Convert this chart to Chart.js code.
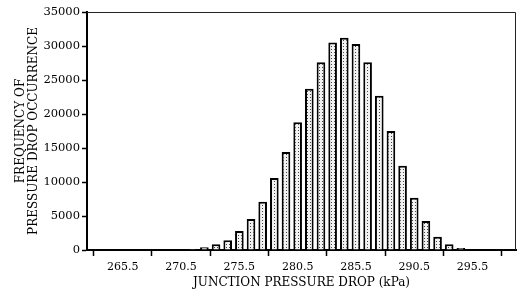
<!DOCTYPE html>
<html>
<head>
<meta charset="utf-8">
<script src="https://cdn.jsdelivr.net/npm/chart.js@4/dist/chart.umd.min.js"></script>
<style>
html,body{margin:0;padding:0;background:#fff;}
#wrap{width:521px;height:290px;}
</style>
</head>
<body>
<div id="wrap"><canvas id="c" width="521" height="290"></canvas></div>
<script>
const binCenters = [269.5, 270.5, 271.5, 272.5, 273.5, 274.5, 275.5, 276.5, 277.5, 278.5, 279.5, 280.5, 281.5, 282.5, 283.5, 284.5, 285.5, 286.5, 287.5, 288.5, 289.5, 290.5, 291.5, 292.5, 293.5, 294.5];
const frequencies = [40, 80, 150, 400, 850, 1450, 2800, 4550, 7100, 10600, 14400, 18800, 23700, 27600, 30500, 31200, 30300, 27600, 22700, 17500, 12400, 7700, 4250, 1950, 850, 300];
const xTickLabels = [265.5, 270.5, 275.5, 280.5, 285.5, 290.5, 295.5];
const yTickLabels = [0, 5000, 10000, 15000, 20000, 25000, 30000, 35000];
const xTitle = 'JUNCTION PRESSURE DROP (kPa)';
const yTitle = ['FREQUENCY OF', 'PRESSURE DROP OCCURRENCE'];

// stipple pattern
const tile = document.createElement('canvas');
tile.width = 3; tile.height = 3;
const tctx = tile.getContext('2d');
tctx.fillStyle = '#f2f2f2'; tctx.fillRect(0,0,3,3);
tctx.fillStyle = '#444'; tctx.fillRect(1,1,1,1);
const ctx = document.getElementById('c').getContext('2d');
const stipple = ctx.createPattern(tile, 'repeat');

const frame = {
  id: 'frame',
  afterDatasetsDraw(chart) {
    const a = chart.chartArea, g = chart.ctx;
    g.save();
    g.strokeStyle = '#222';
    g.lineWidth = 1;
    g.beginPath();
    g.moveTo(a.left, a.top + 0.5);
    g.lineTo(a.right - 0.5, a.top + 0.5);
    g.lineTo(a.right - 0.5, a.bottom);
    g.stroke();
    g.restore();
  }
};

const FONT = 'DejaVu Serif';
new Chart(ctx, {
  type: 'bar',
  data: {
    datasets: [{
      data: binCenters.map((x, i) => ({x: x, y: frequencies[i]})),
      backgroundColor: stipple,
      borderColor: '#000',
      borderWidth: 2,
      borderSkipped: 'bottom',
      barPercentage: 0.74,
      categoryPercentage: 1.0
    }]
  },
  options: {
    responsive: false,
    animation: false,
    events: [],
    layout: {padding: {left: 15, right: 5, top: 12, bottom: 0}},
    plugins: {legend: {display: false}, tooltip: {enabled: false}},
    scales: {
      x: {
        type: 'linear',
        min: 265.06,
        max: 296.6,
        afterBuildTicks: (s) => { s.ticks = xTickLabels.map(v => ({value: v})); },
        afterFit: (s) => { s.height = 40; },
        grid: {drawOnChartArea: false, drawTicks: true, tickLength: 6, color: '#000', tickWidth: 1.5},
        border: {display: true, color: '#000', width: 2},
        ticks: {color: '#000', font: {family: FONT, size: 11}, padding: 5, maxRotation: 0, autoSkip: false,
                callback: (v) => v.toFixed(1)},
        title: {display: true, text: xTitle, color: '#000', font: {family: FONT, size: 12}, padding: {top: 0, bottom: 0}}
      },
      y: {
        min: 0,
        max: 35000,
        afterBuildTicks: (s) => { s.ticks = yTickLabels.map(v => ({value: v})); },
        afterFit: (s) => { s.width = 72; },
        grid: {drawOnChartArea: false, drawTicks: true, tickLength: 5, color: '#000', tickWidth: 1.5},
        border: {display: true, color: '#000', width: 2},
        ticks: {color: '#000', font: {family: FONT, size: 11.5}, padding: 2, callback: (v) => String(v)},
        title: {display: true, text: yTitle, color: '#000', font: {family: FONT, size: 12, lineHeight: 1.05}, padding: {top: 0, bottom: 2}}
      }
    }
  },
  plugins: [frame]
});
</script>
</body>
</html>
